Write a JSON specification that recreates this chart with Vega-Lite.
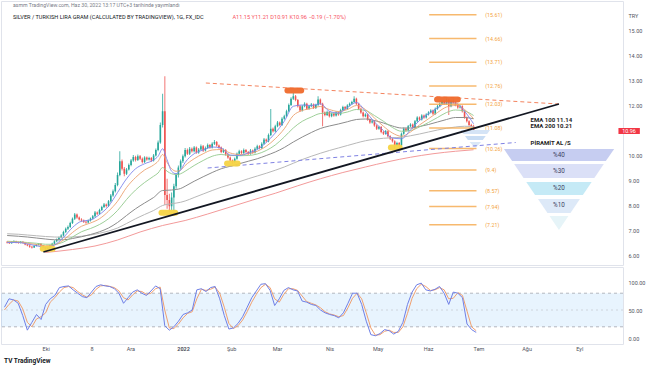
{
"$schema": "https://vega.github.io/schema/vega-lite/v6.json",
"padding": 0,
"spacing": 0,
"background": "white",
"config": {"view": {"stroke": "#e0e3eb", "strokeWidth": 1}, "font": "Roboto", "axis": {"labelFont": "Roboto", "labelColor": "#50535e", "labelFontSize": 5.5, "domain": false, "ticks": false, "grid": false, "labelOverlap": false}},
"title": {"text": "TV TradingView", "orient": "bottom", "anchor": "start", "fontSize": 6.5, "fontWeight": "bold", "color": "#131722", "dx": 4, "offset": 6, "font": "Roboto"},
"datasets": {
"candles": [
{"i":-79,"o":6.52,"h":6.56,"l":6.46,"c":6.50},{"i":-78,"o":6.50,"h":6.53,"l":6.44,"c":6.47},{"i":-77,"o":6.47,"h":6.55,"l":6.45,"c":6.52},{"i":-76,"o":6.52,"h":6.59,"l":6.50,"c":6.55},{"i":-75,"o":6.55,"h":6.57,"l":6.47,"c":6.50},{"i":-74,"o":6.50,"h":6.54,"l":6.45,"c":6.48},{"i":-73,"o":6.48,"h":6.56,"l":6.46,"c":6.53},{"i":-72,"o":6.53,"h":6.55,"l":6.46,"c":6.49},{"i":-71,"o":6.49,"h":6.51,"l":6.39,"c":6.42},{"i":-70,"o":6.42,"h":6.45,"l":6.35,"c":6.38},
{"i":-69,"o":6.38,"h":6.41,"l":6.29,"c":6.33},{"i":-68,"o":6.33,"h":6.36,"l":6.26,"c":6.30},{"i":-67,"o":6.30,"h":6.39,"l":6.28,"c":6.36},{"i":-66,"o":6.36,"h":6.44,"l":6.34,"c":6.41},{"i":-65,"o":6.41,"h":6.48,"l":6.38,"c":6.45},{"i":-64,"o":6.45,"h":6.47,"l":6.35,"c":6.38},{"i":-63,"o":6.38,"h":6.40,"l":6.28,"c":6.31},{"i":-62,"o":6.31,"h":6.33,"l":6.17,"c":6.24},{"i":-61,"o":6.24,"h":6.33,"l":6.21,"c":6.30},{"i":-60,"o":6.30,"h":6.41,"l":6.27,"c":6.38},
{"i":-59,"o":6.38,"h":6.49,"l":6.35,"c":6.45},{"i":-58,"o":6.45,"h":6.59,"l":6.42,"c":6.55},{"i":-57,"o":6.55,"h":6.66,"l":6.51,"c":6.62},{"i":-56,"o":6.62,"h":6.74,"l":6.58,"c":6.70},{"i":-55,"o":6.70,"h":6.83,"l":6.66,"c":6.78},{"i":-54,"o":6.78,"h":6.97,"l":6.74,"c":6.92},{"i":-53,"o":6.92,"h":7.10,"l":6.88,"c":7.05},{"i":-52,"o":7.05,"h":7.18,"l":7.00,"c":7.12},{"i":-51,"o":7.12,"h":7.33,"l":7.08,"c":7.28},{"i":-50,"o":7.28,"h":7.50,"l":7.24,"c":7.45},
{"i":-49,"o":7.45,"h":7.68,"l":7.40,"c":7.62},{"i":-48,"o":7.62,"h":7.66,"l":7.45,"c":7.50},{"i":-47,"o":7.50,"h":7.54,"l":7.38,"c":7.42},{"i":-46,"o":7.42,"h":7.47,"l":7.33,"c":7.38},{"i":-45,"o":7.38,"h":7.42,"l":7.28,"c":7.33},{"i":-44,"o":7.33,"h":7.37,"l":7.25,"c":7.30},{"i":-43,"o":7.30,"h":7.42,"l":7.27,"c":7.38},{"i":-42,"o":7.38,"h":7.50,"l":7.34,"c":7.46},{"i":-41,"o":7.46,"h":7.60,"l":7.42,"c":7.55},{"i":-40,"o":7.55,"h":7.76,"l":7.51,"c":7.70},
{"i":-39,"o":7.70,"h":7.74,"l":7.60,"c":7.65},{"i":-38,"o":7.65,"h":7.85,"l":7.61,"c":7.80},{"i":-37,"o":7.80,"h":7.97,"l":7.76,"c":7.92},{"i":-36,"o":7.92,"h":8.08,"l":7.88,"c":8.02},{"i":-35,"o":8.02,"h":8.06,"l":7.90,"c":7.96},{"i":-34,"o":7.96,"h":8.20,"l":7.92,"c":8.15},{"i":-33,"o":8.15,"h":8.44,"l":8.10,"c":8.38},{"i":-32,"o":8.38,"h":8.62,"l":8.33,"c":8.55},{"i":-31,"o":8.55,"h":8.88,"l":8.50,"c":8.80},{"i":-30,"o":8.80,"h":9.30,"l":8.75,"c":9.20},
{"i":-29,"o":9.20,"h":10.15,"l":9.15,"c":9.75},{"i":-28,"o":9.75,"h":9.82,"l":9.38,"c":9.45},{"i":-27,"o":9.45,"h":9.52,"l":9.15,"c":9.25},{"i":-26,"o":9.25,"h":9.48,"l":9.20,"c":9.42},{"i":-25,"o":9.42,"h":9.66,"l":9.38,"c":9.60},{"i":-24,"o":9.60,"h":9.84,"l":9.55,"c":9.78},{"i":-23,"o":9.78,"h":10.00,"l":9.73,"c":9.92},{"i":-22,"o":9.92,"h":9.97,"l":9.74,"c":9.80},{"i":-21,"o":9.80,"h":10.02,"l":9.76,"c":9.95},{"i":-20,"o":9.95,"h":10.00,"l":9.80,"c":9.85},
{"i":-19,"o":9.85,"h":9.90,"l":9.66,"c":9.72},{"i":-18,"o":9.72,"h":9.95,"l":9.68,"c":9.90},{"i":-17,"o":9.90,"h":9.94,"l":9.77,"c":9.82},{"i":-16,"o":9.82,"h":9.93,"l":9.78,"c":9.88},{"i":-15,"o":9.88,"h":9.92,"l":9.72,"c":9.78},{"i":-14,"o":9.78,"h":10.04,"l":9.74,"c":9.98},{"i":-13,"o":9.98,"h":10.26,"l":9.94,"c":10.20},{"i":-12,"o":10.20,"h":10.58,"l":10.15,"c":10.50},{"i":-11,"o":10.50,"h":11.30,"l":10.45,"c":11.20},{"i":-10,"o":11.20,"h":12.45,"l":11.10,"c":11.75},
{"i":-9,"o":11.75,"h":13.15,"l":8.00,"c":8.40},{"i":-8,"o":8.40,"h":9.05,"l":7.85,"c":8.20},{"i":-7,"o":8.20,"h":8.45,"l":7.70,"c":7.95},{"i":-6,"o":7.95,"h":8.50,"l":7.80,"c":8.30},{"i":-5,"o":8.30,"h":8.85,"l":7.75,"c":8.75},{"i":-4,"o":8.75,"h":9.28,"l":8.65,"c":9.20},{"i":-3,"o":9.20,"h":9.58,"l":9.10,"c":9.50},{"i":-2,"o":9.50,"h":9.82,"l":9.42,"c":9.75},{"i":-1,"o":9.75,"h":10.02,"l":9.68,"c":9.95},{"i":0,"o":9.95,"h":10.28,"l":9.90,"c":10.20},
{"i":1,"o":10.20,"h":10.26,"l":10.00,"c":10.05},{"i":2,"o":10.05,"h":10.32,"l":10.00,"c":10.25},{"i":3,"o":10.25,"h":10.30,"l":10.10,"c":10.15},{"i":4,"o":10.15,"h":10.36,"l":10.10,"c":10.30},{"i":5,"o":10.30,"h":10.34,"l":10.05,"c":10.10},{"i":6,"o":10.10,"h":10.28,"l":10.05,"c":10.22},{"i":7,"o":10.22,"h":10.42,"l":10.18,"c":10.35},{"i":8,"o":10.35,"h":10.40,"l":10.12,"c":10.18},{"i":9,"o":10.18,"h":10.34,"l":10.14,"c":10.28},{"i":10,"o":10.28,"h":10.46,"l":10.24,"c":10.40},
{"i":11,"o":10.40,"h":10.44,"l":10.25,"c":10.30},{"i":12,"o":10.30,"h":10.51,"l":10.26,"c":10.45},{"i":13,"o":10.45,"h":10.60,"l":10.40,"c":10.52},{"i":14,"o":10.52,"h":10.56,"l":10.33,"c":10.38},{"i":15,"o":10.38,"h":10.42,"l":10.25,"c":10.30},{"i":16,"o":10.30,"h":10.34,"l":10.07,"c":10.12},{"i":17,"o":10.12,"h":10.26,"l":10.08,"c":10.20},{"i":18,"o":10.20,"h":10.24,"l":9.97,"c":10.02},{"i":19,"o":10.02,"h":10.06,"l":9.85,"c":9.90},{"i":20,"o":9.90,"h":9.94,"l":9.73,"c":9.78},
{"i":21,"o":9.78,"h":9.82,"l":9.65,"c":9.72},{"i":22,"o":9.72,"h":9.90,"l":9.68,"c":9.85},{"i":23,"o":9.85,"h":10.10,"l":9.81,"c":10.05},{"i":24,"o":10.05,"h":10.21,"l":10.01,"c":10.15},{"i":25,"o":10.15,"h":10.19,"l":10.03,"c":10.08},{"i":26,"o":10.08,"h":10.26,"l":10.04,"c":10.20},{"i":27,"o":10.20,"h":10.24,"l":10.08,"c":10.12},{"i":28,"o":10.12,"h":10.16,"l":10.00,"c":10.05},{"i":29,"o":10.05,"h":10.24,"l":10.01,"c":10.18},{"i":30,"o":10.18,"h":10.22,"l":10.05,"c":10.10},
{"i":31,"o":10.10,"h":10.31,"l":10.06,"c":10.25},{"i":32,"o":10.25,"h":10.41,"l":10.21,"c":10.35},{"i":33,"o":10.35,"h":10.39,"l":10.23,"c":10.28},{"i":34,"o":10.28,"h":10.51,"l":10.24,"c":10.45},{"i":35,"o":10.45,"h":10.68,"l":10.41,"c":10.62},{"i":36,"o":10.62,"h":10.66,"l":10.50,"c":10.55},{"i":37,"o":10.55,"h":10.86,"l":10.51,"c":10.80},{"i":38,"o":10.80,"h":11.84,"l":10.76,"c":11.05},{"i":39,"o":11.05,"h":11.10,"l":10.90,"c":10.95},{"i":40,"o":10.95,"h":11.21,"l":10.91,"c":11.15},
{"i":41,"o":11.15,"h":11.36,"l":11.11,"c":11.30},{"i":42,"o":11.30,"h":11.34,"l":11.15,"c":11.20},{"i":43,"o":11.20,"h":11.51,"l":11.16,"c":11.45},{"i":44,"o":11.45,"h":11.61,"l":11.41,"c":11.55},{"i":45,"o":11.55,"h":11.81,"l":11.51,"c":11.75},{"i":46,"o":11.75,"h":12.06,"l":11.71,"c":12.00},{"i":47,"o":12.00,"h":12.31,"l":11.96,"c":12.25},{"i":48,"o":12.25,"h":12.48,"l":12.20,"c":12.35},{"i":49,"o":12.35,"h":12.40,"l":12.15,"c":12.20},{"i":50,"o":12.20,"h":12.24,"l":11.90,"c":11.95},
{"i":51,"o":11.95,"h":12.00,"l":11.73,"c":11.78},{"i":52,"o":11.78,"h":12.00,"l":11.74,"c":11.95},{"i":53,"o":11.95,"h":12.11,"l":11.91,"c":12.05},{"i":54,"o":12.05,"h":12.09,"l":11.80,"c":11.85},{"i":55,"o":11.85,"h":12.00,"l":11.81,"c":11.95},{"i":56,"o":11.95,"h":12.08,"l":11.91,"c":12.02},{"i":57,"o":12.02,"h":12.06,"l":11.84,"c":11.88},{"i":58,"o":11.88,"h":12.05,"l":11.84,"c":12.00},{"i":59,"o":12.00,"h":12.35,"l":11.96,"c":12.22},{"i":60,"o":12.22,"h":12.26,"l":12.00,"c":12.05},
{"i":61,"o":12.05,"h":12.09,"l":11.15,"c":11.70},{"i":62,"o":11.70,"h":11.74,"l":11.55,"c":11.60},{"i":63,"o":11.60,"h":11.77,"l":11.56,"c":11.72},{"i":64,"o":11.72,"h":11.76,"l":11.50,"c":11.55},{"i":65,"o":11.55,"h":11.70,"l":11.51,"c":11.65},{"i":66,"o":11.65,"h":11.69,"l":11.53,"c":11.58},{"i":67,"o":11.58,"h":11.75,"l":11.54,"c":11.70},{"i":68,"o":11.70,"h":11.74,"l":11.57,"c":11.62},{"i":69,"o":11.62,"h":11.85,"l":11.58,"c":11.80},{"i":70,"o":11.80,"h":11.97,"l":11.76,"c":11.92},
{"i":71,"o":11.92,"h":11.96,"l":11.80,"c":11.85},{"i":72,"o":11.85,"h":12.03,"l":11.81,"c":11.98},{"i":73,"o":11.98,"h":12.10,"l":11.94,"c":12.05},{"i":74,"o":12.05,"h":12.17,"l":12.01,"c":12.12},{"i":75,"o":12.12,"h":12.35,"l":12.08,"c":12.25},{"i":76,"o":12.25,"h":12.29,"l":12.00,"c":12.05},{"i":77,"o":12.05,"h":12.09,"l":11.80,"c":11.85},{"i":78,"o":11.85,"h":11.89,"l":11.65,"c":11.70},{"i":79,"o":11.70,"h":11.74,"l":11.50,"c":11.55},{"i":80,"o":11.55,"h":11.67,"l":11.51,"c":11.62},
{"i":81,"o":11.62,"h":11.66,"l":11.37,"c":11.42},{"i":82,"o":11.42,"h":11.46,"l":11.25,"c":11.30},{"i":83,"o":11.30,"h":11.40,"l":11.26,"c":11.35},{"i":84,"o":11.35,"h":11.39,"l":11.13,"c":11.18},{"i":85,"o":11.18,"h":11.22,"l":11.00,"c":11.05},{"i":86,"o":11.05,"h":11.17,"l":11.01,"c":11.12},{"i":87,"o":11.12,"h":11.16,"l":10.87,"c":10.92},{"i":88,"o":10.92,"h":10.96,"l":10.80,"c":10.85},{"i":89,"o":10.85,"h":11.00,"l":10.81,"c":10.95},{"i":90,"o":10.95,"h":10.99,"l":10.70,"c":10.75},
{"i":91,"o":10.75,"h":10.79,"l":10.60,"c":10.65},{"i":92,"o":10.65,"h":10.69,"l":10.50,"c":10.55},{"i":93,"o":10.55,"h":10.59,"l":10.22,"c":10.40},{"i":94,"o":10.40,"h":10.53,"l":10.36,"c":10.48},{"i":95,"o":10.48,"h":10.52,"l":10.30,"c":10.38},{"i":96,"o":10.38,"h":10.90,"l":10.34,"c":10.85},{"i":97,"o":10.85,"h":11.10,"l":10.81,"c":11.05},{"i":98,"o":11.05,"h":11.09,"l":10.93,"c":10.98},{"i":99,"o":10.98,"h":11.20,"l":10.94,"c":11.15},{"i":100,"o":11.15,"h":11.27,"l":11.11,"c":11.22},
{"i":101,"o":11.22,"h":11.26,"l":11.05,"c":11.10},{"i":102,"o":11.10,"h":11.40,"l":11.06,"c":11.35},{"i":103,"o":11.35,"h":11.55,"l":11.31,"c":11.50},{"i":104,"o":11.50,"h":11.54,"l":11.37,"c":11.42},{"i":105,"o":11.42,"h":11.63,"l":11.38,"c":11.58},{"i":106,"o":11.58,"h":11.62,"l":11.45,"c":11.50},{"i":107,"o":11.50,"h":11.67,"l":11.46,"c":11.62},{"i":108,"o":11.62,"h":11.75,"l":11.58,"c":11.70},{"i":109,"o":11.70,"h":11.83,"l":11.66,"c":11.78},{"i":110,"o":11.78,"h":11.82,"l":11.60,"c":11.65},
{"i":111,"o":11.65,"h":11.90,"l":11.61,"c":11.85},{"i":112,"o":11.85,"h":12.00,"l":11.81,"c":11.95},{"i":113,"o":11.95,"h":12.10,"l":11.91,"c":12.05},{"i":114,"o":12.05,"h":12.20,"l":12.01,"c":12.15},{"i":115,"o":12.15,"h":12.19,"l":12.00,"c":12.05},{"i":116,"o":12.05,"h":12.26,"l":12.01,"c":12.20},{"i":117,"o":12.20,"h":12.24,"l":11.60,"c":11.95},{"i":118,"o":11.95,"h":12.21,"l":11.91,"c":12.15},{"i":119,"o":12.15,"h":12.22,"l":12.05,"c":12.10},{"i":120,"o":12.10,"h":12.14,"l":11.95,"c":12.00},
{"i":121,"o":12.00,"h":12.04,"l":11.85,"c":11.90},{"i":122,"o":11.90,"h":12.00,"l":11.86,"c":11.95},{"i":123,"o":11.95,"h":11.99,"l":11.70,"c":11.75},{"i":124,"o":11.75,"h":11.79,"l":11.45,"c":11.50},{"i":125,"o":11.50,"h":11.54,"l":11.30,"c":11.35},{"i":126,"o":11.35,"h":11.39,"l":11.15,"c":11.20},{"i":127,"o":11.20,"h":11.25,"l":11.10,"c":11.15},{"i":128,"o":11.15,"h":11.21,"l":10.91,"c":10.96}
],
"fast": [
{"i":-79,"b":6.50,"r":6.52,"g":6.55},{"i":-74,"b":6.50,"r":6.51,"g":6.53},{"i":-70,"b":6.44,"r":6.47,"g":6.50},{"i":-66,"b":6.37,"r":6.42,"g":6.47},{"i":-62,"b":6.31,"r":6.37,"g":6.43},{"i":-58,"b":6.40,"r":6.40,"g":6.43},{"i":-54,"b":6.70,"r":6.60,"g":6.52},{"i":-50,"b":7.10,"r":6.90,"g":6.72},{"i":-46,"b":7.35,"r":7.15,"g":6.93},{"i":-42,"b":7.40,"r":7.28,"g":7.06},{"i":-38,"b":7.62,"r":7.45,"g":7.22},{"i":-34,"b":7.95,"r":7.75,"g":7.45},{"i":-30,"b":8.50,"r":8.15,"g":7.78},{"i":-26,"b":9.05,"r":8.70,"g":8.22},{"i":-22,"b":9.45,"r":9.10,"g":8.60},{"i":-18,"b":9.65,"r":9.40,"g":8.90},{"i":-14,"b":9.80,"r":9.60,"g":9.15},{"i":-12,"b":9.95,"r":9.75,"g":9.28},{"i":-10,"b":10.25,"r":10.02,"g":9.50},{"i":-8,"b":9.80,"r":9.70,"g":9.35},{"i":-6,"b":9.35,"r":9.45,"g":9.25},{"i":-4,"b":9.25,"r":9.35,"g":9.22},{"i":-2,"b":9.40,"r":9.40,"g":9.25},{"i":0,"b":9.70,"r":9.58,"g":9.35},{"i":4,"b":10.05,"r":9.85,"g":9.58},{"i":8,"b":10.20,"r":10.05,"g":9.78},{"i":12,"b":10.32,"r":10.20,"g":9.95},{"i":16,"b":10.28,"r":10.22,"g":10.02},{"i":20,"b":10.00,"r":10.08,"g":9.98},{"i":24,"b":9.98,"r":10.02,"g":9.97},{"i":28,"b":10.08,"r":10.05,"g":9.98},{"i":32,"b":10.22,"r":10.15,"g":10.04},{"i":36,"b":10.50,"r":10.35,"g":10.18},{"i":40,"b":10.88,"r":10.65,"g":10.40},{"i":44,"b":11.35,"r":11.05,"g":10.72},{"i":48,"b":11.95,"r":11.58,"g":11.08},{"i":52,"b":12.00,"r":11.78,"g":11.35},{"i":56,"b":11.98,"r":11.86,"g":11.52},{"i":60,"b":12.05,"r":11.94,"g":11.66},{"i":64,"b":11.75,"r":11.82,"g":11.68},{"i":68,"b":11.68,"r":11.74,"g":11.66},{"i":72,"b":11.90,"r":11.82,"g":11.72},{"i":76,"b":12.10,"r":11.98,"g":11.82},{"i":80,"b":11.75,"r":11.82,"g":11.78},{"i":84,"b":11.32,"r":11.48,"g":11.58},{"i":88,"b":10.98,"r":11.15,"g":11.35},{"i":92,"b":10.68,"r":10.88,"g":11.10},{"i":96,"b":10.65,"r":10.75,"g":10.95},{"i":100,"b":11.00,"r":10.92,"g":10.98},{"i":104,"b":11.38,"r":11.20,"g":11.12},{"i":108,"b":11.65,"r":11.45,"g":11.30},{"i":112,"b":11.88,"r":11.70,"g":11.50},{"i":116,"b":12.08,"r":11.92,"g":11.70},{"i":120,"b":12.08,"r":11.98,"g":11.80},{"i":124,"b":11.75,"r":11.82,"g":11.76},{"i":128,"b":11.25,"r":11.45,"g":11.58}
],
"slow": [
{"i":-79,"d":6.78,"lg":6.85},{"i":-74,"d":6.75,"lg":6.83},{"i":-70,"d":6.72,"lg":6.80},{"i":-66,"d":6.68,"lg":6.77},{"i":-62,"d":6.64,"lg":6.74},{"i":-58,"d":6.61,"lg":6.72},{"i":-54,"d":6.61,"lg":6.71},{"i":-50,"d":6.66,"lg":6.72},{"i":-46,"d":6.73,"lg":6.75},{"i":-42,"d":6.82,"lg":6.80},{"i":-38,"d":6.93,"lg":6.87},{"i":-34,"d":7.08,"lg":6.96},{"i":-30,"d":7.30,"lg":7.08},{"i":-26,"d":7.58,"lg":7.26},{"i":-22,"d":7.85,"lg":7.45},{"i":-18,"d":8.08,"lg":7.62},{"i":-14,"d":8.30,"lg":7.78},{"i":-10,"d":8.58,"lg":7.98},{"i":-6,"d":8.60,"lg":8.05},{"i":-2,"d":8.66,"lg":8.11},{"i":0,"d":8.75,"lg":8.16},{"i":4,"d":8.95,"lg":8.30},{"i":8,"d":9.13,"lg":8.44},{"i":12,"d":9.30,"lg":8.58},{"i":16,"d":9.45,"lg":8.71},{"i":20,"d":9.55,"lg":8.82},{"i":24,"d":9.65,"lg":8.93},{"i":28,"d":9.75,"lg":9.05},{"i":32,"d":9.85,"lg":9.16},{"i":36,"d":9.98,"lg":9.27},{"i":40,"d":10.12,"lg":9.39},{"i":44,"d":10.30,"lg":9.52},{"i":48,"d":10.52,"lg":9.67},{"i":52,"d":10.72,"lg":9.82},{"i":56,"d":10.90,"lg":9.95},{"i":60,"d":11.06,"lg":10.07},{"i":64,"d":11.16,"lg":10.18},{"i":68,"d":11.24,"lg":10.28},{"i":72,"d":11.33,"lg":10.38},{"i":76,"d":11.42,"lg":10.48},{"i":80,"d":11.44,"lg":10.57},{"i":84,"d":11.38,"lg":10.63},{"i":88,"d":11.28,"lg":10.67},{"i":92,"d":11.16,"lg":10.69},{"i":96,"d":11.08,"lg":10.71},{"i":100,"d":11.08,"lg":10.77},{"i":104,"d":11.14,"lg":10.84},{"i":108,"d":11.22,"lg":10.92},{"i":112,"d":11.32,"lg":11.00},{"i":116,"d":11.42,"lg":11.07},{"i":120,"d":11.50,"lg":11.12},{"i":124,"d":11.50,"lg":11.15},{"i":128,"d":11.45,"lg":11.14}
],
"ema200": [
{"i":-62,"p":6.10},{"i":-50,"p":6.22},{"i":-40,"p":6.36},{"i":-30,"p":6.60},{"i":-20,"p":6.92},{"i":-10,"p":7.18},{"i":0,"p":7.38},{"i":10,"p":7.64},{"i":20,"p":7.92},{"i":30,"p":8.20},{"i":40,"p":8.47},{"i":50,"p":8.77},{"i":60,"p":9.05},{"i":70,"p":9.30},{"i":80,"p":9.52},{"i":90,"p":9.73},{"i":100,"p":9.91},{"i":110,"p":10.05},{"i":120,"p":10.15},{"i":128,"p":10.21}
],
"fib": [
{"v":15.61,"t":"(15.61)"},{"v":14.66,"t":"(14.66)"},{"v":13.71,"t":"(13.71)"},{"v":12.76,"t":"(12.76)"},{"v":12.03,"t":"(12.03)"},{"v":11.08,"t":"(11.08)"},{"v":10.26,"t":"(10.26)"},{"v":9.4,"t":"(9.4)"},{"v":8.57,"t":"(8.57)"},{"v":7.94,"t":"(7.94)"},{"v":7.21,"t":"(7.21)"}
],
"pyr": [
{"b":1,"p":10.24,"lo":141.5,"hi":190.4},{"b":1,"p":9.76,"lo":145.1,"hi":186.7},
{"b":2,"p":9.64,"lo":146.0,"hi":185.8},{"b":2,"p":9.08,"lo":150.2,"hi":181.6},
{"b":3,"p":8.92,"lo":151.4,"hi":180.4},{"b":3,"p":8.40,"lo":155.3,"hi":176.5},
{"b":4,"p":8.24,"lo":156.6,"hi":175.2},{"b":4,"p":7.68,"lo":160.8,"hi":171.0},
{"b":5,"p":7.56,"lo":161.7,"hi":170.1},{"b":5,"p":7.00,"lo":165.9,"hi":165.9},
{"b":6,"p":11.00,"lo":122.3,"hi":135.3},{"b":6,"p":10.84,"lo":123.6,"hi":134.0},
{"b":7,"p":10.76,"lo":124.2,"hi":133.4},{"b":7,"p":10.60,"lo":125.5,"hi":132.1},
{"b":8,"p":10.52,"lo":126.2,"hi":131.4},{"b":8,"p":10.28,"lo":128.8,"hi":128.8}
],
"pyrtext": [
{"t":"%40","p":10.0},{"t":"%30","p":9.36},{"t":"%20","p":8.68},{"t":"%10","p":8.0}
],
"notes": [
{"t":"EMA 100 11.14","p":11.40},{"t":"EMA 200 10.21","p":11.16},{"t":"PİRAMİT AL /S","p":10.48}
],
"marks": [
{"k":"y","i1":-63.2,"i2":-58.8,"p":6.25},{"k":"y","i1":-10.5,"i2":-4.4,"p":7.69},{"k":"y","i1":18.6,"i2":23.3,"p":9.66},{"k":"y","i1":91.3,"i2":95.2,"p":10.30},{"k":"o","i1":45.4,"i2":51.5,"p":12.58},{"k":"o","i1":111.8,"i2":121.0,"p":12.22}
],
"stoch": [
{"i":-78,"k":55,"d":50},{"i":-76,"k":70,"d":60},{"i":-74,"k":68,"d":68},{"i":-72,"k":62,"d":66},{"i":-70,"k":40,"d":52},{"i":-68,"k":14,"d":28},{"i":-66,"k":28,"d":20},{"i":-64,"k":42,"d":34},{"i":-62,"k":33,"d":38},{"i":-60,"k":60,"d":45},{"i":-58,"k":70,"d":64},{"i":-56,"k":76,"d":72},{"i":-54,"k":90,"d":82},{"i":-52,"k":92,"d":90},{"i":-50,"k":93,"d":92},{"i":-48,"k":86,"d":90},{"i":-46,"k":80,"d":83},{"i":-44,"k":74,"d":77},{"i":-42,"k":72,"d":73},{"i":-40,"k":82,"d":77},{"i":-38,"k":92,"d":87},{"i":-36,"k":95,"d":93},{"i":-34,"k":93,"d":94},{"i":-32,"k":92,"d":92},{"i":-30,"k":88,"d":90},{"i":-28,"k":80,"d":84},{"i":-26,"k":62,"d":72},{"i":-24,"k":72,"d":68},{"i":-22,"k":82,"d":77},{"i":-20,"k":86,"d":84},{"i":-18,"k":80,"d":83},{"i":-16,"k":76,"d":78},{"i":-14,"k":84,"d":80},{"i":-12,"k":93,"d":88},{"i":-10,"k":88,"d":91},{"i":-8,"k":22,"d":50},{"i":-6,"k":14,"d":18},{"i":-4,"k":20,"d":17},{"i":-2,"k":30,"d":25},{"i":0,"k":42,"d":36},{"i":2,"k":45,"d":44},{"i":4,"k":50,"d":47},{"i":6,"k":86,"d":70},{"i":8,"k":88,"d":87},{"i":10,"k":83,"d":85},{"i":12,"k":90,"d":87},{"i":14,"k":92,"d":91},{"i":16,"k":70,"d":80},{"i":18,"k":40,"d":55},{"i":20,"k":16,"d":26},{"i":22,"k":18,"d":17},{"i":24,"k":26,"d":22},{"i":26,"k":38,"d":32},{"i":28,"k":55,"d":47},{"i":30,"k":72,"d":64},{"i":32,"k":84,"d":78},{"i":34,"k":96,"d":90},{"i":36,"k":97,"d":96},{"i":38,"k":85,"d":90},{"i":40,"k":58,"d":70},{"i":42,"k":70,"d":64},{"i":44,"k":85,"d":78},{"i":46,"k":90,"d":88},{"i":48,"k":86,"d":88},{"i":50,"k":84,"d":85},{"i":52,"k":66,"d":75},{"i":54,"k":64,"d":65},{"i":56,"k":60,"d":62},{"i":58,"k":58,"d":59},{"i":60,"k":50,"d":54},{"i":62,"k":45,"d":47},{"i":64,"k":42,"d":43},{"i":66,"k":40,"d":41},{"i":68,"k":36,"d":38},{"i":70,"k":45,"d":40},{"i":72,"k":62,"d":54},{"i":74,"k":80,"d":71},{"i":76,"k":80,"d":80},{"i":78,"k":60,"d":70},{"i":80,"k":30,"d":45},{"i":82,"k":6,"d":18},{"i":84,"k":4,"d":5},{"i":86,"k":8,"d":6},{"i":88,"k":15,"d":12},{"i":90,"k":13,"d":14},{"i":92,"k":7,"d":10},{"i":94,"k":12,"d":10},{"i":96,"k":28,"d":20},{"i":98,"k":60,"d":44},{"i":100,"k":82,"d":71},{"i":102,"k":95,"d":88},{"i":104,"k":98,"d":96},{"i":106,"k":86,"d":92},{"i":108,"k":84,"d":85},{"i":110,"k":87,"d":86},{"i":112,"k":92,"d":90},{"i":114,"k":80,"d":86},{"i":116,"k":60,"d":70},{"i":118,"k":82,"d":71},{"i":120,"k":80,"d":81},{"i":122,"k":72,"d":76},{"i":124,"k":25,"d":48},{"i":126,"k":15,"d":20},{"i":128,"k":10,"d":13}
]
},
"vconcat": [
{
"width": 622, "height": 264,
"resolve": {"scale": {"color": "independent"}, "axis": {"y": "independent", "x": "independent"}},
"layer": [
{"data": {"name": "candles"}, "mark": {"type": "rule", "strokeWidth": 0.8},
 "encoding": {
  "x": {"field": "i", "type": "quantitative", "scale": {"domain": [-79.5, 192.1], "nice": false, "zero": false}, "axis": null},
  "y": {"field": "l", "type": "quantitative", "scale": {"domain": [5.6, 16.16], "nice": false, "zero": false},
        "axis": {"orient": "right", "values": [6,7,8,9,10,12,13,14,15], "format": ".2f", "labelOverlap": false, "title": "TRY", "titleAngle": 0, "titleX": 5, "titleY": 14, "titleAlign": "left", "titleBaseline": "middle", "titleFontSize": 5.5, "titleFontWeight": "normal", "titleColor": "#50535e", "titleFont": "Roboto", "labelPadding": 5}},
  "y2": {"field": "h"},
  "color": {"condition": {"test": "datum.c >= datum.o", "value": "#26a69a"}, "value": "#ef5350"}}},
{"data": {"name": "candles"}, "mark": {"type": "bar", "size": 1.6},
 "encoding": {
  "x": {"field": "i", "type": "quantitative", "axis": null},
  "y": {"field": "o", "type": "quantitative", "axis": null},
  "y2": {"field": "c"},
  "color": {"condition": {"test": "datum.c >= datum.o", "value": "#26a69a"}, "value": "#ef5350"}}},
{"data": {"name": "ema200"}, "mark": {"type": "line", "color": "#f39a9a", "strokeWidth": 1, "interpolate": "monotone"},
 "encoding": {"x": {"field": "i", "type": "quantitative", "axis": null}, "y": {"field": "p", "type": "quantitative", "axis": null}}},
{"data": {"name": "slow"}, "mark": {"type": "line", "color": "#b8b8b8", "strokeWidth": 1, "interpolate": "monotone"},
 "encoding": {"x": {"field": "i", "type": "quantitative", "axis": null}, "y": {"field": "lg", "type": "quantitative", "axis": null}}},
{"data": {"name": "slow"}, "mark": {"type": "line", "color": "#8c8c8c", "strokeWidth": 1, "interpolate": "monotone"},
 "encoding": {"x": {"field": "i", "type": "quantitative", "axis": null}, "y": {"field": "d", "type": "quantitative", "axis": null}}},
{"data": {"name": "fast"}, "mark": {"type": "line", "color": "#93c98d", "strokeWidth": 0.9, "interpolate": "monotone"},
 "encoding": {"x": {"field": "i", "type": "quantitative", "axis": null}, "y": {"field": "g", "type": "quantitative", "axis": null}}},
{"data": {"name": "fast"}, "mark": {"type": "line", "color": "#eba271", "strokeWidth": 0.9, "interpolate": "monotone"},
 "encoding": {"x": {"field": "i", "type": "quantitative", "axis": null}, "y": {"field": "r", "type": "quantitative", "axis": null}}},
{"data": {"name": "fast"}, "mark": {"type": "line", "color": "#7e86ec", "strokeWidth": 0.9, "interpolate": "monotone"},
 "encoding": {"x": {"field": "i", "type": "quantitative", "axis": null}, "y": {"field": "b", "type": "quantitative", "axis": null}}},
{"data": {"name": "fib"}, "mark": {"type": "rule", "color": "#f6ad55", "strokeWidth": 1.4, "opacity": 0.85},
 "encoding": {"x": {"datum": 108.3, "type": "quantitative", "axis": null}, "x2": {"datum": 129.3}, "y": {"field": "v", "type": "quantitative", "axis": null}}},
{"data": {"name": "fib"}, "mark": {"type": "text", "color": "#f3a33d", "fontSize": 5.3, "align": "left", "baseline": "middle", "font": "Roboto"},
 "encoding": {"x": {"datum": 133.2, "type": "quantitative", "axis": null}, "y": {"field": "v", "type": "quantitative", "axis": null}, "text": {"field": "t"}}},
{"data": {"name": "pyr"}, "mark": {"type": "area", "orient": "horizontal"},
 "encoding": {"y": {"field": "p", "type": "quantitative", "axis": null}, "x": {"field": "lo", "type": "quantitative", "axis": null}, "x2": {"field": "hi"},
  "color": {"field": "b", "type": "ordinal", "legend": null, "scale": {"domain": [1,2,3,4,5,6,7,8], "range": ["#c6cdf1","#dbe0f7","#c5eaf6","#dde9f8","#e6f4f8","#d5e4f6","#c9ddf4","#dae8f7"]}}}},
{"data": {"values": [{"i1": 9.2, "p1": 12.88, "i2": 165.9, "p2": 12.04}]}, "mark": {"type": "rule", "color": "#f4845f", "strokeWidth": 1, "strokeDash": [4, 3]},
 "encoding": {"x": {"field": "i1", "type": "quantitative", "axis": null}, "y": {"field": "p1", "type": "quantitative", "axis": null}, "x2": {"field": "i2"}, "y2": {"field": "p2"}}},
{"data": {"values": [{"i1": 10.0, "p1": 9.48, "i2": 146.7, "p2": 10.50}]}, "mark": {"type": "rule", "color": "#7f82e3", "strokeWidth": 1, "strokeDash": [4, 3]},
 "encoding": {"x": {"field": "i1", "type": "quantitative", "axis": null}, "y": {"field": "p1", "type": "quantitative", "axis": null}, "x2": {"field": "i2"}, "y2": {"field": "p2"}}},
{"data": {"name": "marks"}, "mark": {"type": "rule", "strokeWidth": 6, "strokeCap": "round", "opacity": 0.95},
 "encoding": {"x": {"field": "i1", "type": "quantitative", "axis": null}, "x2": {"field": "i2"}, "y": {"field": "p", "type": "quantitative", "axis": null},
  "color": {"field": "k", "type": "nominal", "legend": null, "scale": {"domain": ["y", "o"], "range": ["#f6d343", "#ef6a2c"]}}}},
{"data": {"values": [{"i1": -62.9, "p1": 6.12, "i2": 165.9, "p2": 12.04}]}, "mark": {"type": "rule", "color": "#131722", "strokeWidth": 1.8},
 "encoding": {"x": {"field": "i1", "type": "quantitative", "axis": null}, "y": {"field": "p1", "type": "quantitative", "axis": null}, "x2": {"field": "i2"}, "y2": {"field": "p2"}}},
{"data": {"name": "pyrtext"}, "mark": {"type": "text", "color": "#3b4163", "fontSize": 6.3, "align": "center", "baseline": "middle", "font": "Roboto"},
 "encoding": {"x": {"datum": 165.9, "type": "quantitative", "axis": null}, "y": {"field": "p", "type": "quantitative", "axis": null}, "text": {"field": "t"}}},
{"data": {"name": "notes"}, "mark": {"type": "text", "color": "#1e1e1e", "fontSize": 6, "fontWeight": "bold", "align": "left", "baseline": "middle", "font": "Roboto"},
 "encoding": {"x": {"datum": 153.3, "type": "quantitative", "axis": null}, "y": {"field": "p", "type": "quantitative", "axis": null}, "text": {"field": "t"}}},
{"data": {"values": [{"p1": 11.08, "p2": 10.84}]}, "mark": {"type": "rect", "color": "#f23645"},
 "encoding": {"x": {"datum": 192.3, "type": "quantitative", "axis": null}, "x2": {"datum": 201.8}, "y": {"field": "p1", "type": "quantitative", "axis": null}, "y2": {"field": "p2"}}},
{"data": {"values": [{"t": "10.96", "p": 10.96}]}, "mark": {"type": "text", "color": "white", "fontSize": 5.5, "align": "center", "baseline": "middle", "font": "Roboto"},
 "encoding": {"x": {"datum": 197.0, "type": "quantitative", "axis": null}, "y": {"field": "p", "type": "quantitative", "axis": null}, "text": {"field": "t"}}},
{"data": {"values": [{"t": "asmm TradingView.com, Haz 30, 2022 13:17 UTC+3 tarihinde yayımlandı", "p": 16.0}]}, "mark": {"type": "text", "color": "#787b86", "fontSize": 5.2, "align": "left", "baseline": "middle", "font": "Roboto"},
 "encoding": {"x": {"datum": -76.4, "type": "quantitative", "axis": null}, "y": {"field": "p", "type": "quantitative", "axis": null}, "text": {"field": "t"}}},
{"data": {"values": [{"t": "SILVER / TURKISH LIRA GRAM (CALCULATED BY TRADINGVIEW), 1G, FX_IDC", "p": 15.52}]}, "mark": {"type": "text", "color": "#131722", "fontSize": 5.6, "align": "left", "baseline": "middle", "font": "Roboto"},
 "encoding": {"x": {"datum": -76.4, "type": "quantitative", "axis": null}, "y": {"field": "p", "type": "quantitative", "axis": null}, "text": {"field": "t"}}},
{"data": {"values": [{"t": "A11.15  Y11.21  D10.91  K10.96  −0.19 (−1.70%)", "p": 15.52}]}, "mark": {"type": "text", "color": "#f7525f", "fontSize": 5.6, "align": "left", "baseline": "middle", "font": "Roboto"},
 "encoding": {"x": {"datum": 21.0, "type": "quantitative", "axis": null}, "y": {"field": "p", "type": "quantitative", "axis": null}, "text": {"field": "t"}}}
]
},
{
"width": 622, "height": 77,
"resolve": {"axis": {"y": "independent", "x": "independent"}},
"layer": [
{"data": {"values": [{}]}, "mark": {"type": "rect", "color": "#2196f3", "opacity": 0.1},
 "encoding": {"x": {"datum": -79.5, "type": "quantitative", "axis": null}, "x2": {"datum": 192.1}, "y": {"datum": 20, "type": "quantitative", "axis": null}, "y2": {"datum": 80}}},
{"data": {"values": [{"v": 80}, {"v": 20}]}, "mark": {"type": "rule", "color": "#a3a6af", "strokeWidth": 0.8, "strokeDash": [3, 3]},
 "encoding": {"y": {"field": "v", "type": "quantitative", "axis": null}}},
{"data": {"values": [{"v": 50}]}, "mark": {"type": "rule", "color": "#c3c6cf", "strokeWidth": 0.7, "strokeDash": [2, 3]},
 "encoding": {"y": {"field": "v", "type": "quantitative", "axis": null}}},
{"data": {"name": "stoch"}, "mark": {"type": "line", "color": "#f0a070", "strokeWidth": 1},
 "encoding": {
  "x": {"field": "i", "type": "quantitative", "scale": {"domain": [-79.5, 192.1], "nice": false, "zero": false},
        "axis": {"orient": "bottom", "values": [-60,-40,-23,0,21,41,64,85,107,129,150,173], "labelExpr": "['Eki','8','Ara','2022','Şub','Mar','Nis','May','Haz','Tem','Ağu','Eyl'][indexof([-60,-40,-23,0,21,41,64,85,107,129,150,173], datum.value)]", "labelPadding": 2, "labelFlush": false, "labelOverlap": false, "title": null,
                 "labelFontWeight": {"condition": {"test": "datum.value == 0", "value": "bold"}, "value": "normal"}}},
  "y": {"field": "d", "type": "quantitative", "scale": {"domain": [-10.7, 126.8], "nice": false, "zero": false},
        "axis": {"orient": "right", "values": [0, 50, 100], "format": ".2f", "labelOverlap": false, "title": null, "labelPadding": 5}}}},
{"data": {"name": "stoch"}, "mark": {"type": "line", "color": "#6f7fe6", "strokeWidth": 1},
 "encoding": {"x": {"field": "i", "type": "quantitative", "axis": null}, "y": {"field": "k", "type": "quantitative", "axis": null}}}
]
}
]
}
